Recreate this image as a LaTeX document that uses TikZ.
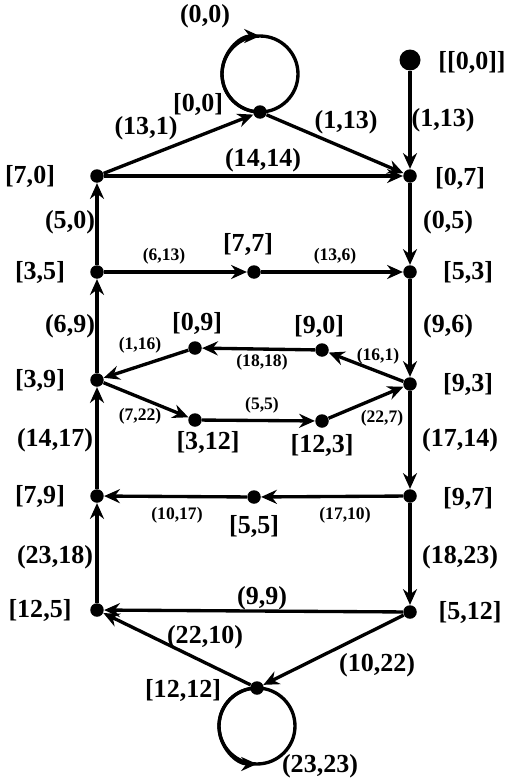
\documentclass[tikz,border=0pt]{standalone}
\usepackage{fontspec}
\setmainfont{Liberation Serif}
\usetikzlibrary{arrows.meta}
\tikzset{
  vtx/.style={circle,fill,inner sep=0pt,minimum size=0.27cm},
  edge/.style={line width=1.9pt,-{Stealth[length=9pt,width=8pt,inset=3pt]}},
  loopline/.style={line width=1.9pt},
  big/.style={font=\fontsize{14.8}{16}\selectfont\bfseries,inner sep=0pt},
  small/.style={font=\fontsize{10}{12}\selectfont\bfseries,inner sep=0pt}
}
\begin{document}
\begin{tikzpicture}[x=0.02cm,y=-0.02cm]
        \useasboundingbox (0,0) rectangle (520,781);
        \node[vtx] (a00) at (260,112) {};
        \node[vtx,minimum size=0.42cm] (s00) at (410,60) {};
        \node[vtx] (a70) at (97,176) {};
        \node[vtx] (a07) at (410,176) {};
        \node[vtx] (a35) at (97,272) {};
        \node[vtx] (a77) at (254,272) {};
        \node[vtx] (a53) at (410,272) {};
        \node[vtx] (a09) at (195,348) {};
        \node[vtx] (a90) at (322,350) {};
        \node[vtx] (a39) at (97,380) {};
        \node[vtx] (a93) at (410,384) {};
        \node[vtx] (a312) at (195,420) {};
        \node[vtx] (a123) at (322,421) {};
        \node[vtx] (a79) at (97,496) {};
        \node[vtx] (a55) at (254,497) {};
        \node[vtx] (a97) at (410,496) {};
        \node[vtx] (a125) at (97,610) {};
        \node[vtx] (a512) at (410,612) {};
        \node[vtx] (a1212) at (257,688) {};
        % loops
        \draw[loopline] ([yshift=0.76cm]a00.center) circle[radius=0.76cm];
        \draw[edge] (a00.center) arc[start angle=270,end angle=90,radius=0.76cm];
        \draw[loopline] ([yshift=-0.76cm]a1212.center) circle[radius=0.76cm];
        \draw[edge] (a1212.center) arc[start angle=90,end angle=270,radius=0.76cm];
        % edges
        \draw[edge] (a70) -- (a00);
        \draw[edge] (a00) -- (a07);
        \draw[edge] (a70) -- (a07);
        \draw[edge] (s00) -- (a07);
        \draw[edge] (a35) -- (a70);
        \draw[edge] (a07) -- (a53);
        \draw[edge] (a35) -- (a77);
        \draw[edge] (a77) -- (a53);
        \draw[edge] (a39) -- (a35);
        \draw[edge] (a53) -- (a93);
        \draw[edge] (a93) -- (a90);
        \draw[edge] (a90) -- (a09);
        \draw[edge] (a09) -- (a39);
        \draw[edge] (a39) -- (a312);
        \draw[edge] (a312) -- (a123);
        \draw[edge] (a123) -- (a93);
        \draw[edge] (a79) -- (a39);
        \draw[edge] (a93) -- (a97);
        \draw[edge] (a97) -- (a55);
        \draw[edge] (a55) -- (a79);
        \draw[edge] (a125) -- (a79);
        \draw[edge] (a97) -- (a512);
        \draw[edge] (a512) -- (a125);
        \draw[edge] (a512) -- (a1212);
        \draw[edge] (a1212) -- (a125);
        % vertex labels
        \node[big] (n00) at (198,104) {[0,0]};
        \node[big] (ns00) at (472,62) {[[0,0]]};
        \node[big] (n70) at (30,176) {[7,0]};
        \node[big] (n07) at (460,178) {[0,7]};
        \node[big] (n35) at (40,272) {[3,5]};
        \node[big] (n77) at (248,244) {[7,7]};
        \node[big] (n53) at (468,272) {[5,3]};
        \node[big] (n09) at (197,323) {[0,9]};
        \node[big] (n90) at (319,326) {[9,0]};
        \node[big] (n39) at (40,380) {[3,9]};
        \node[big] (n93) at (468,384) {[9,3]};
        \node[big] (n312) at (208,442) {[3,12]};
        \node[big] (n123) at (322,445) {[12,3]};
        \node[big] (n79) at (40,496) {[7,9]};
        \node[big] (n55) at (254,526) {[5,5]};
        \node[big] (n97) at (468,498) {[9,7]};
        \node[big] (n125) at (40,610) {[12,5]};
        \node[big] (n512) at (470,612) {[5,12]};
        \node[big] (n1212) at (183,690) {[12,12]};
        % edge labels
        \node[big] (e00) at (205,16) {(0,0)};
        \node[big] (e131) at (146,128) {(13,1)};
        \node[big] (e113a) at (346,122) {(1,13)};
        \node[big] (e113b) at (443,120) {(1,13)};
        \node[big] (e1414) at (263,160) {(14,14)};
        \node[big] (e50) at (70,222) {(5,0)};
        \node[big] (e05) at (448,222) {(0,5)};
        \node[small] (e613) at (164,256) {(6,13)};
        \node[small] (e136) at (335,256) {(13,6)};
        \node[big] (e69) at (70,326) {(6,9)};
        \node[big] (e96) at (448,326) {(9,6)};
        \node[small] (e116) at (140,345) {(1,16)};
        \node[small] (e1818) at (262,362) {(18,18)};
        \node[small] (e161) at (378,356) {(16,1)};
        \node[small] (e722) at (140,416) {(7,22)};
        \node[small] (e55) at (262,405) {(5,5)};
        \node[small] (e227) at (382,418) {(22,7)};
        \node[big] (e1417) at (55,440) {(14,17)};
        \node[big] (e1714) at (460,440) {(17,14)};
        \node[small] (e1017) at (177,515) {(10,17)};
        \node[small] (e1710) at (345,515) {(17,10)};
        \node[big] (e2318) at (55,557) {(23,18)};
        \node[big] (e1823) at (460,557) {(18,23)};
        \node[big] (e99) at (262,598) {(9,9)};
        \node[big] (e2210) at (205,637) {(22,10)};
        \node[big] (e1022) at (377,665) {(10,22)};
        \node[big] (e2323) at (320,766) {(23,23)};
\end{tikzpicture}
\end{document}
